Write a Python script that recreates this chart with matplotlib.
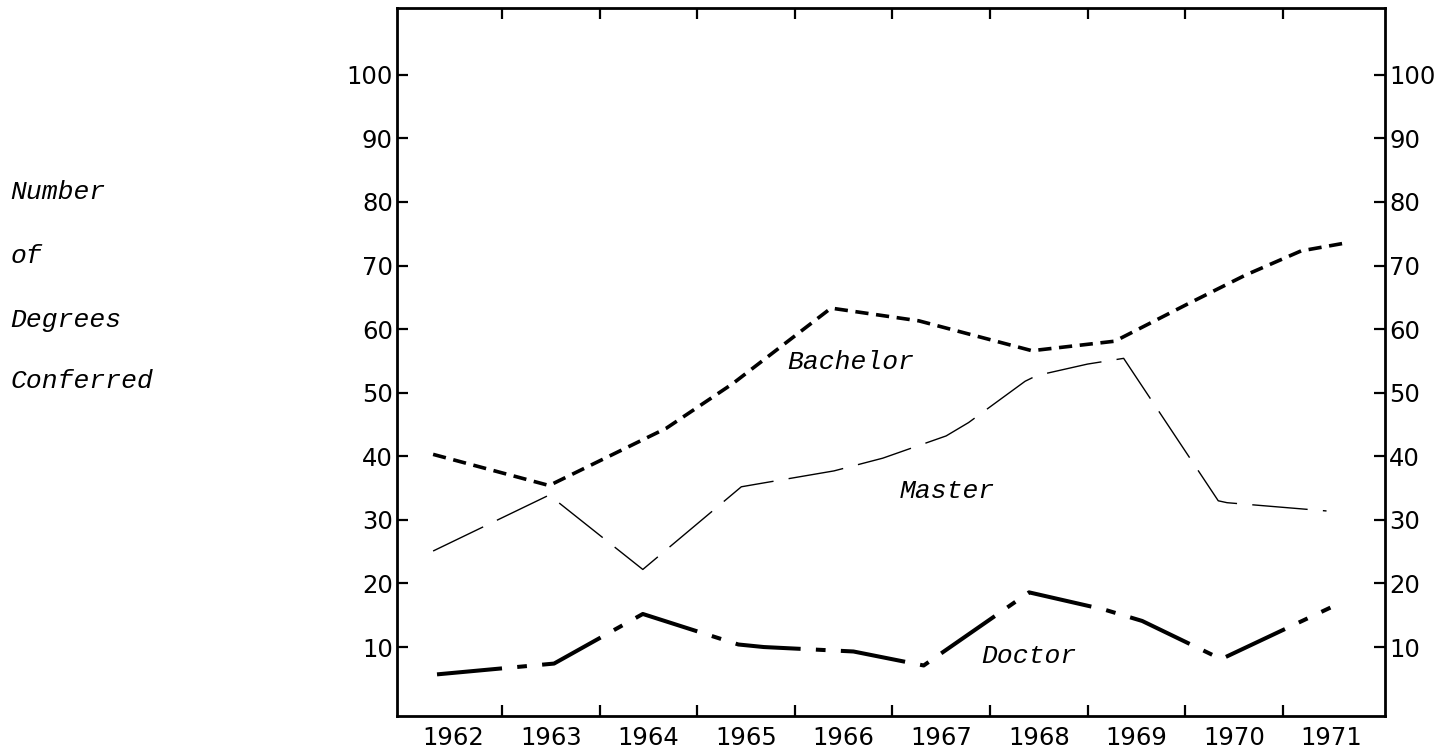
import numpy as np
import matplotlib
matplotlib.use("Agg")
import matplotlib.pyplot as plt
import matplotlib.transforms as mtransforms

# values; the lines are hand drawn so the vertices
# do not sit exactly on the year positions
years = [1962, 1963, 1964, 1965, 1966, 1967, 1968, 1969, 1970, 1971]
y_ticks = [10, 20, 30, 40, 50, 60, 70, 80, 90, 100]

bachelor_x = [1961.79, 1962.98, 1964.18, 1964.86, 1965.87, 1966.77, 1967.93,
              1968.78, 1969.52, 1970.12, 1970.69, 1971.13]
bachelor_y = [40.3, 35.4, 44.4, 51.4, 63.3, 61.3, 56.6, 58.1, 63.9, 68.5, 72.3, 73.5]

master_x = [1961.79, 1962.98, 1963.94, 1964.95, 1965.1, 1965.9, 1966.4, 1967.05,
            1967.28, 1967.86, 1967.98, 1968.5, 1968.87, 1969.84, 1969.93, 1970.95]
master_y = [25.1, 33.9, 22.2, 35.2, 35.6, 37.7, 39.7, 43.2, 45.3, 51.8, 52.7,
            54.5, 55.4, 33.0, 32.7, 31.4]

doctor_x = [1961.83, 1963.03, 1963.94, 1964.92, 1965.18, 1966.1, 1966.82,
            1967.9, 1968.67, 1969.06, 1969.87, 1970.99]
doctor_y = [5.7, 7.4, 15.2, 10.4, 10.0, 9.3, 7.1, 18.6, 15.9, 14.1, 8.1, 16.2]

ylabel_lines = ["Number", "of", "Degrees", "Conferred"]

plt.rcParams["lines.scale_dashes"] = False
tick_font = "DejaVu Sans"
mono = "Liberation Mono"

fig = plt.figure(figsize=(14.39, 7.53), dpi=100)
ax = fig.add_axes([0.2759, 0.0491, 0.9625 - 0.2759, 0.9894 - 0.0491])

# the three series
ax.plot(bachelor_x, bachelor_y, color="black", lw=2.6, dashes=(9.5, 5.5))
ax.plot(master_x, master_y, color="black", lw=1.0, dashes=(40, 11))
ax.plot(doctor_x, doctor_y, color="black", lw=2.9, dashes=(47, 11, 7, 11))

ax.set_xlim(1961.42, 1971.55)
ax.set_ylim(-0.85, 110.5)

# year labels sit between the tick marks
ax.set_xticks(np.arange(1962.5, 1971, 1.0))
ax.set_xticklabels([])
ax.set_xticks(years, minor=True)
ax.set_xticklabels([str(y) for y in years], minor=True, fontsize=17.5, family=tick_font)
ax.tick_params(axis="x", which="minor", length=0, pad=7)
ax.tick_params(axis="x", which="major", direction="in", length=8, width=1.6,
               top=True, bottom=True)

ax.set_yticks(y_ticks)
ax.set_yticklabels([str(v) for v in y_ticks], fontsize=17.5, family=tick_font)
ax.tick_params(axis="y", direction="in", length=8, width=1.6, pad=3,
               left=True, right=True, labelright=True)

for side in ["left", "right", "top", "bottom"]:
    ax.spines[side].set_linewidth(2.0)

# line names inside the plot
ax.text(1965.42, 54.9, "Bachelor", fontsize=19, family=mono, style="italic", va="center")
ax.text(1966.57, 34.6, "Master", fontsize=19, family=mono, style="italic", va="center")
ax.text(1967.41, 8.6, "Doctor", fontsize=19, family=mono, style="italic", va="center")

# stacked axis title on the far left
trans = mtransforms.blended_transform_factory(fig.transFigure, ax.transData)
for word, yv in zip(ylabel_lines, [81.5, 71.5, 61.5, 51.8]):
    ax.text(0.007, yv, word, transform=trans, fontsize=19, family=mono,
            style="italic", va="center", ha="left", clip_on=False)

fig.savefig("out.png", dpi=100)
